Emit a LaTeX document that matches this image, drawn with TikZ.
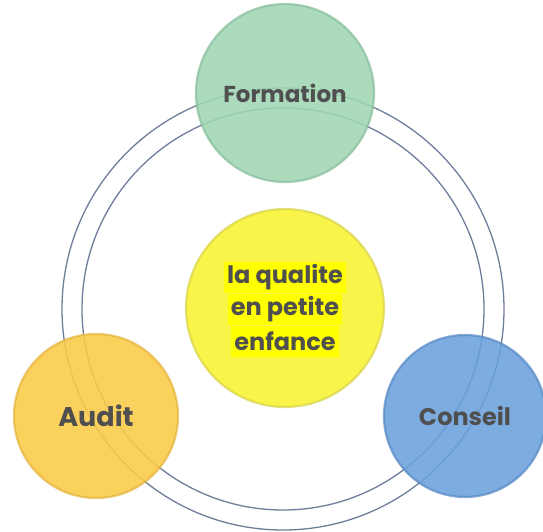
\documentclass[tikz,border=0pt]{standalone}
\usepackage{fontspec}
\setmainfont{Poppins}
\definecolor{ringc}{HTML}{6E7D9A}
\definecolor{txtc}{HTML}{4F4F4F}
\definecolor{greenf}{HTML}{9FD6B3}
\definecolor{greene}{HTML}{86BD9B}
\definecolor{yellowf}{HTML}{F8F44A}
\definecolor{yellowe}{HTML}{D8D24A}
\definecolor{hl}{HTML}{FFFF00}
\definecolor{auditf}{HTML}{FBCB48}
\definecolor{audite}{HTML}{E3B43C}
\definecolor{conseilf}{HTML}{6BA0DC}
\definecolor{conseile}{HTML}{5588C4}
\tikzset{
  ring/.style={draw=ringc, line width=1.3pt},
  bubble/.style={circle, inner sep=0pt, line width=2.2pt, fill opacity=0.88, text opacity=1,
    draw opacity=0.7, text=txtc},
  hlline/.style={fill=hl, inner xsep=3pt, inner ysep=0pt, minimum height=31pt, text=txtc,
    font=\fontsize{24}{28}\selectfont\bfseries}
}
\begin{document}
\begin{tikzpicture}[x=1pt,y=-1pt]
\useasboundingbox (0,0) rectangle (543,531);
% rings
\draw[ring] (283,309) circle[radius=221];
\draw[ring] (283,309) circle[radius=201];
% bubbles
\node[bubble, minimum size=178pt, fill=greenf, draw=greene,
  font=\fontsize{23}{26}\selectfont\bfseries] (formation) at (285,93) {Formation};
\node[bubble, minimum size=198pt, fill=yellowf, draw=yellowe, fill opacity=1] (centre) at (285,308) {};
\node[hlline, anchor=center] (l1) at (285,277) {la qualite};
\node[hlline, anchor=center] (l2) at (285,309) {en petite};
\node[hlline, anchor=center] (l3) at (285,341) {enfance};
\node[bubble, minimum size=164pt, fill=auditf, draw=audite,
  font=\fontsize{27}{30}\selectfont\bfseries] (audit) at (96,416) {Audit};
\node[bubble, minimum size=162pt, fill=conseilf, draw=conseile,
  font=\fontsize{24}{28}\selectfont\bfseries] (conseil) at (465,416) {Conseil};
\end{tikzpicture}
\end{document}
